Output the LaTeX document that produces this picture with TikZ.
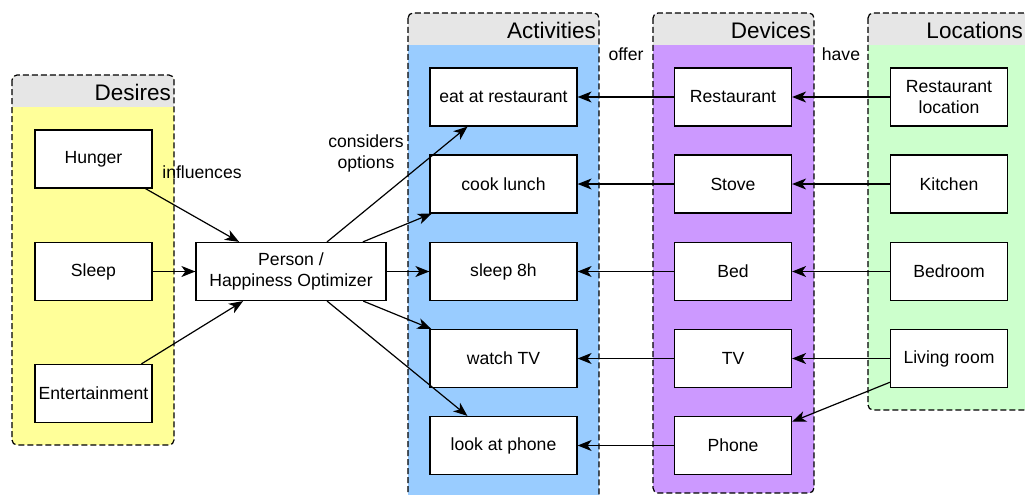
\documentclass[tikz,border=0pt]{standalone}
\usepackage{fontspec}
\setmainfont{Liberation Sans}
\usetikzlibrary{arrows.meta}
\definecolor{desirefill}{HTML}{FFFF99}
\definecolor{activityfill}{HTML}{99CCFF}
\definecolor{devicefill}{HTML}{CC99FF}
\definecolor{locationfill}{HTML}{CCFFCC}
\definecolor{headfill}{HTML}{E6E6E6}
\tikzstyle{itembox} = [draw, fill=white, line width=1.2pt, minimum width=117pt, minimum height=58pt, align=center, font=\fontsize{17.6}{21}\selectfont]
\tikzstyle{actbox} = [itembox, minimum width=147pt]
\tikzstyle{flow} = [line width=1.2pt, -{Stealth[length=14pt,width=11pt,inset=4pt]}]
\tikzstyle{groupline} = [dash pattern=on 6pt off 3pt, line width=1.2pt, rounded corners=5pt]
\tikzstyle{grouptitle} = [anchor=east, inner sep=0pt, font=\fontsize{22.5}{26}\selectfont]
\tikzstyle{edgelabel} = [inner sep=0pt, align=center, font=\fontsize{17.6}{21}\selectfont]
% group frame: x1, y1, x2, y2, fill colour
\newcommand{\groupframe}[5]{%
  \begin{scope}
    \clip[rounded corners=5pt] (#1,#2) rectangle (#3,#4);
    \fill[#5] (#1,#2) rectangle (#3,#4);
    \fill[headfill] (#1,#2) rectangle (#3,#2+32);
  \end{scope}
  \draw[groupline] (#1,#2) rectangle (#3,#4);
}

\begin{document}
\begin{tikzpicture}[x=1pt, y=-1pt]
    \clip (0,0) rectangle (1025,495);

    % groups
    \groupframe{12}{75}{174}{445}{desirefill}
    \groupframe{408}{13}{599}{505}{activityfill}
    \groupframe{653}{13}{814}{493}{devicefill}
    \groupframe{868}{13}{1032}{410}{locationfill}
    \node[grouptitle] (t_desires) at (171,92) {Desires};
    \node[grouptitle] (t_activities) at (596,30) {Activities};
    \node[grouptitle] (t_devices) at (811,30) {Devices};
    \node[grouptitle] (t_locations) at (1023,30) {Locations};

    % desires
    \node[itembox] (hunger) at (93.5,159) {Hunger};
    \node[itembox] (sleep) at (93.5,271.5) {Sleep};
    \node[itembox] (entertain) at (93.5,393.5) {Entertainment};

    \node[itembox, minimum width=190pt] (person) at (291,271.5) {Person /\\Happiness Optimizer};

    % activities
    \node[actbox] (act_eat) at (503.5,97) {eat at restaurant};
    \node[actbox] (act_cook) at (503.5,184) {cook lunch};
    \node[actbox] (act_sleep) at (503.5,271.5) {sleep 8h};
    \node[actbox] (act_tv) at (503.5,358.5) {watch TV};
    \node[actbox] (act_phone) at (503.5,445.5) {look at phone};

    % devices
    \node[itembox] (dev_rest) at (733,97) {Restaurant};
    \node[itembox] (dev_stove) at (733,184) {Stove};
    \node[itembox] (dev_bed) at (733,271.5) {Bed};
    \node[itembox] (dev_tv) at (733,358.5) {TV};
    \node[itembox] (dev_phone) at (733,445.5) {Phone};

    % locations
    \node[itembox] (loc_rest) at (949,97) {Restaurant\\location};
    \node[itembox] (loc_kitchen) at (949,184) {Kitchen};
    \node[itembox] (loc_bedroom) at (949,271.5) {Bedroom};
    \node[itembox] (loc_living) at (949,358.5) {Living room};

    \draw[flow] (hunger) -- (person);
    \draw[flow] (sleep) -- (person);
    \draw[flow] (entertain) -- (person);

    \draw[flow] (person) -- (act_eat);
    \draw[flow] (person) -- (act_cook);
    \draw[flow] (person) -- (act_sleep);
    \draw[flow] (person) -- (act_tv);
    \draw[flow] (person) -- (act_phone);

    \draw[flow] (dev_rest) -- (act_eat);
    \draw[flow] (dev_stove) -- (act_cook);
    \draw[flow] (dev_bed) -- (act_sleep);
    \draw[flow] (dev_tv) -- (act_tv);
    \draw[flow] (dev_phone) -- (act_phone);

    \draw[flow] (loc_rest) -- (dev_rest);
    \draw[flow] (loc_kitchen) -- (dev_stove);
    \draw[flow] (loc_bedroom) -- (dev_bed);
    \draw[flow] (loc_living) -- (dev_tv);
    \draw[flow] (loc_living) -- (dev_phone);

    \node[edgelabel] (l_influences) at (202,172) {influences};
    \node[edgelabel] (l_considers) at (366,153) {considers\\options};
    \node[edgelabel] (l_offer) at (626,54) {offer};
    \node[edgelabel] (l_have) at (841,54) {have};
\end{tikzpicture}
\end{document}
